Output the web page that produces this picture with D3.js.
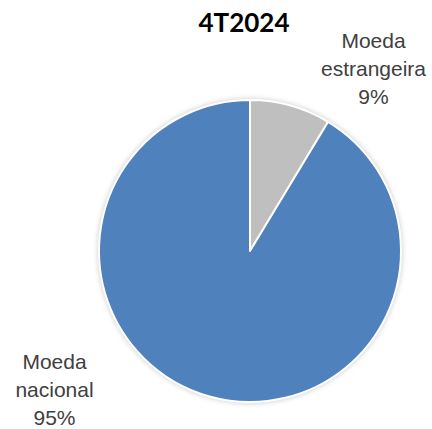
<!DOCTYPE html>
<html>
<head>
<meta charset="utf-8">
<script src="https://cdn.jsdelivr.net/npm/d3@7/dist/d3.min.js"></script>
<style>
  html, body { margin: 0; padding: 0; background: #fff; }
  svg { display: block; }
</style>
</head>
<body>
<script>
// Composition of the debt by currency, 4T2024
const title = "4T2024";
const categories = ["Moeda estrangeira", "Moeda nacional"];
const labelLines = [["Moeda", "estrangeira", "9%"], ["Moeda", "nacional", "95%"]];
const values = [9, 95];
const colors = ["#BFBFBF", "#4F81BD"];

const W = 432, H = 429;
const cx = 250, cy = 251, R = 151;

const svg = d3.select("body").append("svg")
  .attr("width", W).attr("height", H);

const defs = svg.append("defs");
const f = defs.append("filter").attr("id", "soft")
  .attr("x", "-20%").attr("y", "-20%").attr("width", "140%").attr("height", "140%");
f.append("feGaussianBlur").attr("stdDeviation", 2.5);

svg.append("text")
  .attr("x", 244).attr("y", 32)
  .attr("text-anchor", "middle")
  .attr("font-family", "Lato, 'Open Sans', sans-serif")
  .attr("font-weight", "bold")
  .attr("font-size", 26)
  .attr("fill", "#000")
  .text(title);

const g = svg.append("g").attr("transform", `translate(${cx},${cy})`);

// faint halo around the disc
g.append("circle")
  .attr("r", R + 1.5)
  .attr("fill", "#d0d0d0")
  .attr("filter", "url(#soft)");

const pie = d3.pie().sort(null).value(d => d);
const arc = d3.arc().innerRadius(0).outerRadius(R);

g.selectAll("path.slice")
  .data(pie(values))
  .enter().append("path")
  .attr("class", "slice")
  .attr("d", arc)
  .attr("fill", (d, i) => colors[i])
  .attr("stroke", "#fff")
  .attr("stroke-width", 2)
  .attr("stroke-linejoin", "round");

// labels
const labelPos = [[373.5, 48], [54.5, 369]];
const lineH = 28;
labelLines.forEach((lines, i) => {
  const t = svg.append("text")
    .attr("text-anchor", "middle")
    .attr("font-family", "'Liberation Sans', Arial, sans-serif")
    .attr("font-size", 21)
    .attr("fill", "#404040");
  lines.forEach((ln, j) => {
    t.append("tspan")
      .attr("x", labelPos[i][0])
      .attr("y", labelPos[i][1] + j * lineH)
      .text(ln);
  });
});
</script>
</body>
</html>
